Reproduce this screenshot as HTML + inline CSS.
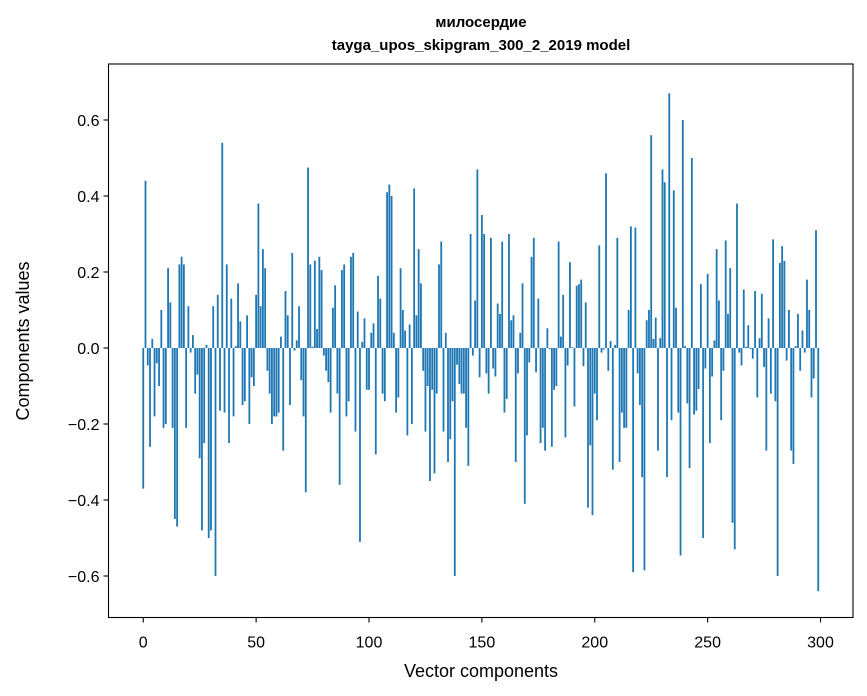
<!DOCTYPE html>
<html><head><meta charset="utf-8"><style>
body{margin:0;background:#fff;}
svg{display:block;font-family:"Liberation Sans","DejaVu Sans",sans-serif;}
</style></head><body>
<svg id="chart" width="867" height="696" viewBox="0 0 867 696">
<rect width="867" height="696" fill="#fff"/>
<text x="481" y="27" text-anchor="middle" font-size="15" font-weight="bold">милосердие</text>
<text x="481" y="50" text-anchor="middle" font-size="15" font-weight="bold">tayga_upos_skipgram_300_2_2019 model</text>
<g id="bars"></g>
<g id="axes"></g>
<text x="481" y="677" text-anchor="middle" font-size="18">Vector components</text>
<text transform="translate(29,341) rotate(-90)" text-anchor="middle" font-size="18">Components values</text>
</svg>
<script>
const values = [
-0.37,0.44,-0.046,-0.26,0.024,-0.18,-0.04,-0.10,0.10,-0.21,
-0.20,0.21,0.12,-0.21,-0.45,-0.47,0.22,0.24,0.22,-0.21,
0.11,-0.012,0.034,-0.12,-0.07,-0.29,-0.48,-0.25,0.008,-0.50,
-0.48,0.11,-0.60,0.14,-0.165,0.54,-0.17,0.22,-0.25,0.13,
-0.18,0.005,0.17,0.07,-0.15,-0.14,0.086,-0.20,-0.077,-0.10,
0.14,0.38,0.11,0.26,0.21,-0.06,-0.12,-0.20,-0.18,-0.18,
-0.17,0.03,-0.27,0.15,0.086,-0.15,0.25,-0.007,0.02,0.11,
-0.085,-0.18,-0.38,0.475,0.22,0.003,0.23,0.05,0.24,0.205,
-0.02,-0.06,-0.09,-0.17,0.106,0.165,-0.12,-0.36,0.205,0.22,
-0.18,-0.14,0.24,0.25,-0.22,0.096,-0.51,0.016,0.078,-0.11,
-0.11,0.04,0.065,-0.28,0.19,0.13,-0.12,-0.14,0.41,0.43,
0.40,0.04,-0.17,-0.13,0.21,0.10,0.046,-0.23,0.062,-0.20,
0.42,0.086,0.26,0.17,-0.06,-0.22,-0.10,-0.35,-0.11,-0.33,
-0.12,0.22,0.28,-0.22,0.04,-0.30,-0.24,-0.14,-0.60,-0.044,
-0.095,-0.12,-0.12,-0.21,-0.31,0.30,-0.02,0.125,0.47,-0.077,
0.35,0.30,-0.067,-0.12,0.29,-0.054,-0.075,0.117,0.09,0.28,
-0.17,-0.134,0.30,0.073,0.086,-0.30,-0.067,0.04,0.17,-0.41,
-0.23,-0.038,0.24,0.29,-0.064,0.13,-0.25,-0.21,-0.27,0.052,
-0.003,-0.26,-0.11,-0.10,0.28,0.03,0.14,-0.235,-0.046,0.226,
0.002,-0.154,0.164,0.168,0.18,-0.048,0.12,-0.42,-0.256,-0.44,
-0.12,-0.19,0.27,-0.012,-0.004,0.46,-0.06,0.018,-0.32,0.008,
0.29,-0.30,-0.17,-0.21,-0.21,0.10,0.32,-0.59,0.317,-0.067,
-0.15,-0.34,-0.585,0.073,0.10,0.56,0.024,0.08,-0.27,0.026,
0.47,0.436,-0.34,0.67,-0.19,0.415,0.106,-0.17,-0.546,0.60,
0.005,-0.146,-0.316,0.50,-0.175,-0.165,-0.108,0.168,-0.50,-0.054,
0.195,-0.25,-0.075,0.02,0.26,0.125,-0.19,-0.06,0.283,0.09,
0.21,-0.46,-0.53,0.38,-0.012,-0.046,0.154,0.003,0.06,-0.003,
-0.028,0.15,-0.13,0.026,0.143,-0.05,-0.27,0.078,-0.12,0.286,
-0.14,-0.60,0.224,0.268,0.229,-0.033,0.10,-0.27,-0.305,0.005,
0.09,-0.06,0.046,-0.012,0.18,0.10,-0.13,-0.08,0.31,-0.64
];
const xTicks = [0,50,100,150,200,250,300];
const yTicks = [-0.6,-0.4,-0.2,0.0,0.2,0.4,0.6];
const yTickLabels = ["\u22120.6","\u22120.4","\u22120.2","0.0","0.2","0.4","0.6"];

const NS="http://www.w3.org/2000/svg";
const L=108.5,R=853,T=64,B=617.5;
const xMin=-15.39,xMax=314.39;
function xs(v){return L+(v-xMin)/(xMax-xMin)*(R-L);}
function ys(v){return 348-v*380;}
const bars=document.getElementById('bars');
values.forEach((v,i)=>{
  const r=document.createElementNS(NS,'rect');
  const x0=xs(i-0.4),x1=xs(i+0.4);
  r.setAttribute('x',x0);r.setAttribute('width',x1-x0);
  r.setAttribute('y',Math.min(ys(v),ys(0)));
  r.setAttribute('height',Math.abs(ys(v)-ys(0)));
  r.setAttribute('fill','#1f77b4');
  
  
  bars.appendChild(r);
});
const ax=document.getElementById('axes');
function el(tag,attrs){const e=document.createElementNS(NS,tag);for(const k in attrs)e.setAttribute(k,attrs[k]);ax.appendChild(e);return e;}
const frame=el('rect',{x:L,y:T,width:R-L,height:B-T,fill:'none',stroke:'#000','stroke-width':1.1});


xTicks.forEach(t=>{
  const x=xs(t);
  const tk=el('line',{x1:x,x2:x,y1:B,y2:B+5,stroke:'#000','stroke-width':1.1});
  
  
  const tx=el('text',{x:x,y:B+30,'text-anchor':'middle','font-size':16});
  tx.textContent=t;
  
  
});
yTicks.forEach((t,i)=>{
  const y=ys(t);
  const tk=el('line',{x1:L-5,x2:L,y1:y,y2:y,stroke:'#000','stroke-width':1.1});
  
  
  const tx=el('text',{x:L-9,y:y+6,'text-anchor':'end','font-size':16});
  tx.textContent=yTickLabels[i];
  
  
});
</script>
</body></html>
